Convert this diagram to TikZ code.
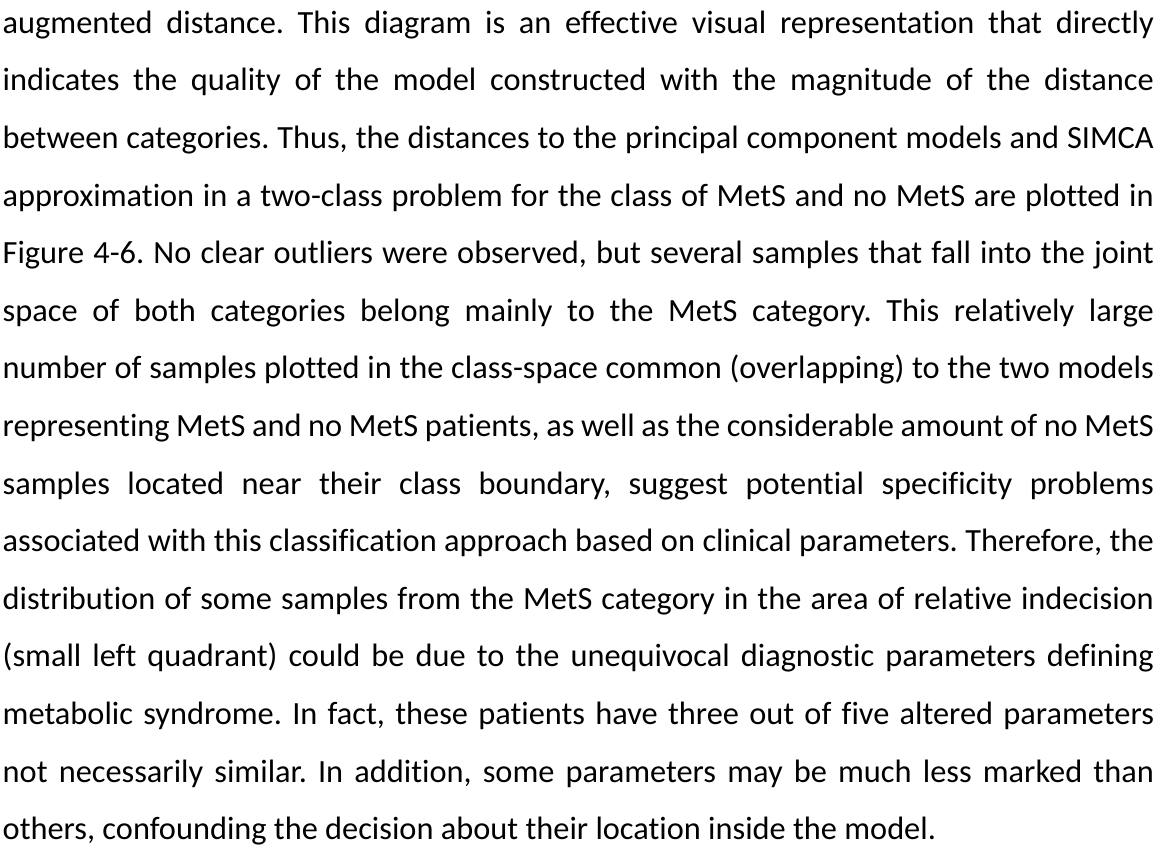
\documentclass[tikz,border=0pt]{standalone}
\usepackage{fontspec}
\setmainfont{Carlito}[Ligatures={NoCommon}]
\usepackage{tikz}
\usetikzlibrary{positioning}
\frenchspacing

\begin{document}
\begin{tikzpicture}[
  x=1pt, y=1pt,
  body/.style={anchor=base west, inner sep=0pt, text width=422.6pt,
    align=justify, font=\fontsize{11.88}{21.15}\selectfont},
]
  % page frame
  \fill[white] (0,0) rectangle (424,316);
  \useasboundingbox (0,0) rectangle (424,316);
  \coordinate (start) at (0.8,303.8);
  \node[body] (para) at (start) {%
    augmented distance. This diagram is an effective visual representation that directly\linebreak
    indicates the quality of the model constructed with the magnitude of the distance\linebreak
    between categories. Thus, the distances to the principal component models and SIMCA\linebreak
    approximation in a two-class problem for the class of MetS and no MetS are plotted in\linebreak
    Figure 4-6. No clear outliers were observed, but several samples that fall into the joint\linebreak
    space of both categories belong mainly to the MetS category. This relatively large\linebreak
    number of samples plotted in the class-space common (overlapping) to the two models\linebreak
    representing MetS and no MetS patients, as well as the considerable amount of no MetS\linebreak
    samples located near their class boundary, suggest potential specificity problems\linebreak
    associated with this classification approach based on clinical parameters. Therefore, the\linebreak
    distribution of some samples from the MetS category in the area of relative indecision\linebreak
    (small left quadrant) could be due to the unequivocal diagnostic parameters defining\linebreak
    metabolic syndrome. In fact, these patients have three out of five altered parameters\linebreak
    not necessarily similar. In addition, some parameters may be much less marked than\linebreak
    others, confounding the decision about their location inside the model.};
\end{tikzpicture}
\end{document}
